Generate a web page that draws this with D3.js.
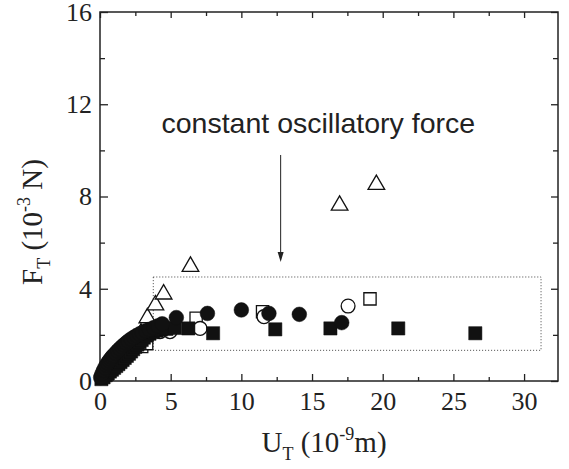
<!DOCTYPE html>
<html>
<head>
<meta charset="utf-8">
<script src="https://cdn.jsdelivr.net/npm/d3@7"></script>
<style>
  body{margin:0;background:#fff}
  svg{display:block}
</style>
</head>
<body>
<svg id="chart" width="569" height="469"></svg>
<script>
'use strict';

// U_T (1e-9 m), F_T (1e-3 N)
var triX=[0.4,0.9,1.4,1.9,2.4,2.9,3.35,3.92,4.5,6.4,16.95,19.55]
  , triY=[0.45,0.9,1.3,1.6,1.9,2.15,2.82,3.38,3.85,5.05,7.7,8.6];

var oSqX=[0.5,1.2,2.0,2.95,3.3,6.8,11.5,19.1]
  , oSqY=[0.3,0.8,1.2,1.5,1.62,2.72,3.0,3.56];

var oCirX=[0.6,1.5,2.5,4.25,4.95,7.08,11.6,17.55]
  , oCirY=[0.5,1.2,1.8,2.14,2.14,2.28,2.79,3.25];

var fSqX=[0.1,0.25,0.4,0.55,0.7,0.85,1.0,1.15,1.3,1.45,1.6,1.75,1.9,2.05,2.2,2.35,2.5,2.65,2.8,2.95,3.1,3.3,3.5,3.75,4.0,4.3,4.7,5.3,6.25,8.0,12.4,16.3,21.1,26.55]
  , fSqY=[0.08,0.16,0.25,0.33,0.41,0.49,0.57,0.65,0.73,0.82,0.91,1.0,1.09,1.18,1.28,1.38,1.48,1.58,1.68,1.78,1.88,1.97,2.05,2.12,2.18,2.23,2.26,2.3,2.28,2.07,2.24,2.28,2.28,2.07];

var fCirX=[0.05,0.15,0.25,0.35,0.45,0.55,0.65,0.75,0.85,0.95,1.1,1.25,1.4,1.55,1.7,1.85,2.0,2.2,2.4,2.6,2.8,3.0,3.25,3.5,3.8,4.1,4.4,5.4,7.6,10.0,11.95,14.1,17.1]
  , fCirY=[0.15,0.32,0.46,0.58,0.69,0.79,0.88,0.96,1.04,1.11,1.21,1.31,1.4,1.49,1.57,1.65,1.73,1.82,1.9,1.97,2.04,2.1,2.17,2.24,2.31,2.39,2.48,2.75,2.93,3.08,2.93,2.89,2.53];

var xMajor=[0,5,10,15,20,25,30]
  , xMinor=[2.5,7.5,12.5,17.5,22.5,27.5]
  , yMajor=[0,4,8,12,16]
  , yMinor=[2,6,10,14];

var boxX=[3.77,31.2], boxY=[1.33,4.51];
var arrowX=12.78, arrowY=[9.8,5.16];
var note='constant oscillatory force';

var serif='"Liberation Serif","Times New Roman",serif';
var svg=d3.select('#chart');
var L=100, R=558, T=12, B=381;

var x=d3.scaleLinear().domain([0,32.4]).range([L,R])
  , y=d3.scaleLinear().domain([0,16]).range([B,T]);

function ax(axis,tx,ty){
    svg.append('g').attr('transform','translate('+tx+','+ty+')').call(axis)
        .call(function(s){
            s.select('.domain').remove();
            s.selectAll('line').attr('stroke','#222').attr('stroke-width',1.3);
            s.selectAll('text')
                .style('font-family',serif).style('font-size','26px')
                .attr('fill','#222');
        });
}

// frame
svg.append('rect').attr('x',L).attr('y',T).attr('width',R-L).attr('height',B-T)
    .attr('fill','none').attr('stroke','#222').attr('stroke-width',1.5);

// ticks, inward
ax(d3.axisBottom(x).tickValues(xMajor).tickSize(-7).tickPadding(11).tickFormat(d3.format('d')),0,B);
ax(d3.axisBottom(x).tickValues(xMinor).tickSize(-4).tickFormat(''),0,B);
ax(d3.axisTop(x).tickValues(xMajor).tickSize(-6).tickFormat(''),0,T);
ax(d3.axisTop(x).tickValues(xMinor).tickSize(-4).tickFormat(''),0,T);
ax(d3.axisLeft(y).tickValues(yMajor).tickSize(-8).tickPadding(8).tickFormat(d3.format('d')),L,0);
ax(d3.axisLeft(y).tickValues(yMinor).tickSize(-5).tickFormat(''),L,0);
ax(d3.axisRight(y).tickValues(yMajor).tickSize(-7).tickFormat(''),R,0);
ax(d3.axisRight(y).tickValues(yMinor).tickSize(-5).tickFormat(''),R,0);

// dotted box
svg.append('rect')
    .attr('x',x(boxX[0])).attr('y',y(boxY[1]))
    .attr('width',x(boxX[1])-x(boxX[0])).attr('height',y(boxY[0])-y(boxY[1]))
    .attr('fill','none').attr('stroke','#444').attr('stroke-width',1)
    .attr('stroke-dasharray','1,2');

// arrow
svg.append('line').attr('x1',x(arrowX)).attr('x2',x(arrowX))
    .attr('y1',y(arrowY[0])).attr('y2',y(arrowY[1])-8)
    .attr('stroke','#222').attr('stroke-width',1);
svg.append('path')
    .attr('d','M'+(x(arrowX)-3)+','+(y(arrowY[1])-10)+'L'+(x(arrowX)+3)+','+(y(arrowY[1])-10)+'L'+x(arrowX)+','+y(arrowY[1])+'Z')
    .attr('fill','#222');

svg.append('text').attr('x',161.5).attr('y',133)
    .attr('font-family','"Liberation Sans",Arial,sans-serif').attr('font-size',28.5)
    .attr('fill','#222').text(note);

// markers
function series(xs,ys,type,size,filled){
    var sym=d3.symbol().type(type).size(size);
    svg.append('g').selectAll('path').data(xs).enter().append('path')
        .attr('transform',function(d,i){
            var dy=type===d3.symbolTriangle?2:0;
            return 'translate('+x(d)+','+(y(ys[i])+dy)+')';
        })
        .attr('d',sym)
        .attr('fill',filled?'#111':'#fff')
        .attr('stroke','#111')
        .attr('stroke-width',filled?0.5:1.3);
}

series(triX,triY,d3.symbolTriangle,120,false);
series(oSqX,oSqY,d3.symbolSquare,150,false);
series(oCirX,oCirY,d3.symbolCircle,150,false);
series(fSqX,fSqY,d3.symbolSquare,175,true);
series(fCirX,fCirY,d3.symbolCircle,170,true);

// axis titles
var xt=svg.append('text').attr('x',324).attr('y',452).attr('text-anchor','middle')
    .attr('font-family',serif).attr('font-size',29).attr('fill','#222');
xt.append('tspan').text('U');
xt.append('tspan').attr('font-size',18).attr('dy',8).text('T');
xt.append('tspan').attr('dy',-8).text(' (10');
xt.append('tspan').attr('font-size',18).attr('dy',-12).text('-9');
xt.append('tspan').attr('dy',12).text('m)');

var yt=svg.append('text').attr('transform','translate(42,222) rotate(-90)').attr('text-anchor','middle')
    .attr('font-family',serif).attr('font-size',29).attr('fill','#222');
yt.append('tspan').text('F');
yt.append('tspan').attr('font-size',18).attr('dy',8).text('T');
yt.append('tspan').attr('dy',-8).text(' (10');
yt.append('tspan').attr('font-size',18).attr('dy',-12).text('-3');
yt.append('tspan').attr('dy',12).text(' N)');
</script>
</body>
</html>
